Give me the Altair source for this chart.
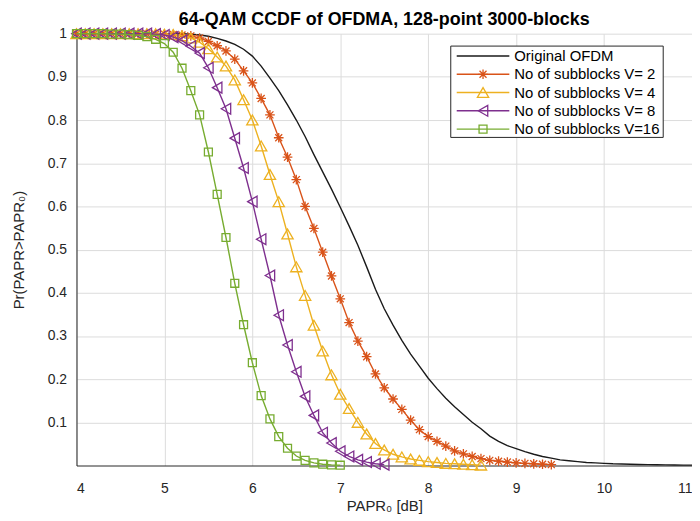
import altair as alt
import pandas as pd
import numpy as np

TITLE = "64-QAM CCDF of OFDMA, 128-point 3000-blocks"
X_TITLE = "PAPR\u2080 [dB]"
Y_TITLE = "Pr(PAPR>PAPR\u2080)"
SERIES = ["Original OFDM", "No of subblocks V= 2", "No of subblocks V= 4",
          "No of subblocks V= 8", "No of subblocks V=16"]
X_TICKS = [4, 5, 6, 7, 8, 9, 10, 11]
Y_TICKS = [0.1, 0.2, 0.3, 0.4, 0.5, 0.6, 0.7, 0.8, 0.9, 1.0]

# sample grids (0.1 dB steps)
x_orig = np.round(np.arange(4.0, 11.001, 0.1), 1)
x_v2 = np.round(np.arange(4.0, 9.401, 0.1), 1)
x_v4 = np.round(np.arange(4.0, 8.601, 0.1), 1)
x_v8 = np.round(np.arange(4.0, 7.501, 0.1), 1)
x_v16 = np.round(np.arange(4.0, 7.001, 0.1), 1)

y_orig = [1.0, 1.0, 1.0, 1.0, 1.0, 1.0, 1.0, 1.0, 1.0, 1.0,
          1.0, 1.0, 1.0, 0.999, 0.997, 0.994, 0.989, 0.983, 0.975, 0.964,
          0.948, 0.925, 0.897, 0.868, 0.835, 0.8, 0.762, 0.72, 0.68, 0.64,
          0.598, 0.555, 0.51, 0.46, 0.408, 0.363, 0.325, 0.29, 0.258, 0.23,
          0.202, 0.178, 0.156, 0.136, 0.118, 0.1, 0.085, 0.068, 0.056, 0.046,
          0.039, 0.032, 0.026, 0.021, 0.017, 0.013, 0.011, 0.009, 0.007, 0.006,
          0.005, 0.004, 0.0035, 0.003, 0.0025, 0.002, 0.0018, 0.0015, 0.0012, 0.001,
          0.001]
y_v2 = [1.0, 1.0, 1.0, 1.0, 1.0, 1.0, 1.0, 1.0, 1.0, 0.999,
        0.999, 0.998, 0.997, 0.995, 0.99, 0.982, 0.972, 0.96, 0.941, 0.914,
        0.886, 0.85, 0.812, 0.759, 0.714, 0.662, 0.6, 0.549, 0.494, 0.439,
        0.386, 0.331, 0.288, 0.252, 0.212, 0.18, 0.154, 0.13, 0.105, 0.083,
        0.067, 0.056, 0.045, 0.034, 0.027, 0.021, 0.016, 0.012, 0.01, 0.008,
        0.006, 0.005, 0.004, 0.003, 0.002]
y_v4 = [1.0, 1.0, 1.0, 1.0, 1.0, 1.0, 1.0, 1.0, 1.0, 1.0,
        0.999, 0.998, 0.995, 0.99, 0.98, 0.965, 0.946, 0.925, 0.893, 0.847,
        0.8, 0.74, 0.674, 0.611, 0.536, 0.46, 0.394, 0.325, 0.265, 0.21,
        0.165, 0.132, 0.1, 0.073, 0.051, 0.036, 0.026, 0.02, 0.015, 0.012,
        0.009, 0.007, 0.005, 0.004, 0.003, 0.002, 0.001]
y_v8 = [1.0, 1.0, 1.0, 1.0, 1.0, 1.0, 1.0, 1.0, 1.0, 0.999,
        0.997, 0.992, 0.984, 0.971, 0.955, 0.921, 0.875, 0.826, 0.758, 0.689,
        0.611, 0.524, 0.44, 0.348, 0.279, 0.217, 0.16, 0.116, 0.076, 0.052,
        0.033, 0.021, 0.013, 0.008, 0.004, 0.002]
y_v16 = [1.0, 1.0, 1.0, 1.0, 0.999, 0.999, 0.998, 0.996, 0.993, 0.987,
         0.977, 0.957, 0.92, 0.868, 0.812, 0.726, 0.628, 0.528, 0.422, 0.326,
         0.238, 0.162, 0.108, 0.067, 0.04, 0.022, 0.012, 0.006, 0.003, 0.0015,
         0.0007]

# styles
COLORS = ["#1a1a1a", "#D95319", "#EDB120", "#7E2F8E", "#77AC30"]
STAR = "M0,-1V1M-1,0H1M-0.72,-0.72L0.72,0.72M-0.72,0.72L0.72,-0.72"
SHAPES = [None, STAR, "triangle-up", "triangle-left", "square"]
SIZES = [0, 95, 130, 120, 64]
FONT = "Liberation Sans"
AX = "#262626"

xs = [x_orig, x_v2, x_v4, x_v8, x_v16]
ys = [y_orig, y_v2, y_v4, y_v8, y_v16]

W, H = 620, 435

x_enc = alt.X("x:Q", scale=alt.Scale(domain=[4, 11], nice=False, zero=False),
              axis=alt.Axis(values=X_TICKS, format="d", title=X_TITLE, grid=True,
                            gridColor="#dcdcdc", domainColor=AX, ticks=False,
                            labelColor=AX, labelFontSize=14, labelFont=FONT,
                            labelPadding=16, labelOverlap=False,
                            titleFont=FONT, titleFontSize=15, titleFontWeight="normal",
                            titleColor=AX, titlePadding=3))
y_enc = alt.Y("y:Q", scale=alt.Scale(domain=[0, 1], nice=False),
              axis=alt.Axis(values=Y_TICKS, format="~g", title=Y_TITLE, grid=True,
                            gridColor="#dcdcdc", domainColor=AX, ticks=False,
                            labelColor=AX, labelFontSize=14, labelFont=FONT,
                            labelPadding=10, labelOverlap=False,
                            titleFont=FONT, titleFontSize=15, titleFontWeight="normal",
                            titleColor=AX, titlePadding=21))

layers = []
for i, name in enumerate(SERIES):
    df = pd.DataFrame({"x": xs[i], "y": ys[i], "series": name})
    base = alt.Chart(df)
    layers.append(base.mark_line(color=COLORS[i], strokeWidth=1.4).encode(x=x_enc, y=y_enc))
    if SHAPES[i] is not None:
        layers.append(base.mark_point(shape=SHAPES[i], size=SIZES[i], filled=False,
                                      color=COLORS[i], strokeWidth=1.3, opacity=1)
                      .encode(x=x_enc, y=y_enc))

# legend (manual, in plot pixel coordinates)
LX0, LX1, LY0, LY1 = 377, 591, 12.5, 104.5
layers.append(alt.Chart(pd.DataFrame({"a": [0]})).mark_rect(
    fill="white", stroke=AX, strokeWidth=1).encode(
    x=alt.value(LX0), x2=alt.value(LX1), y=alt.value(LY0), y2=alt.value(LY1)))
for i, name in enumerate(SERIES):
    ly = 22.5 + 18.4 * i
    ldf = pd.DataFrame({"label": [name]})
    lb = alt.Chart(ldf)
    layers.append(lb.mark_rule(color=COLORS[i], strokeWidth=1.4).encode(
        x=alt.value(383), x2=alt.value(436), y=alt.value(ly)))
    if SHAPES[i] is not None:
        layers.append(lb.mark_point(shape=SHAPES[i], size=SIZES[i], filled=False,
                                    color=COLORS[i], strokeWidth=1.3, opacity=1).encode(
            x=alt.value(409.5), y=alt.value(ly)))
    layers.append(lb.mark_text(align="left", baseline="middle", font=FONT,
                               fontSize=15, color="#000").encode(
        x=alt.value(441), y=alt.value(ly), text="label:N"))

chart = alt.layer(*layers).properties(
    width=W, height=H,
    title=alt.TitleParams(TITLE, font=FONT, fontSize=18, fontWeight="bold",
                          color="#000", offset=-3, anchor="middle"),
    autosize=alt.AutoSizeParams(type="none"),
    padding={"left": 69, "top": 24, "right": 0, "bottom": 50},
).configure_view(stroke=None)

chart.save("out.html", embed_options={"renderer": "svg", "actions": False})
